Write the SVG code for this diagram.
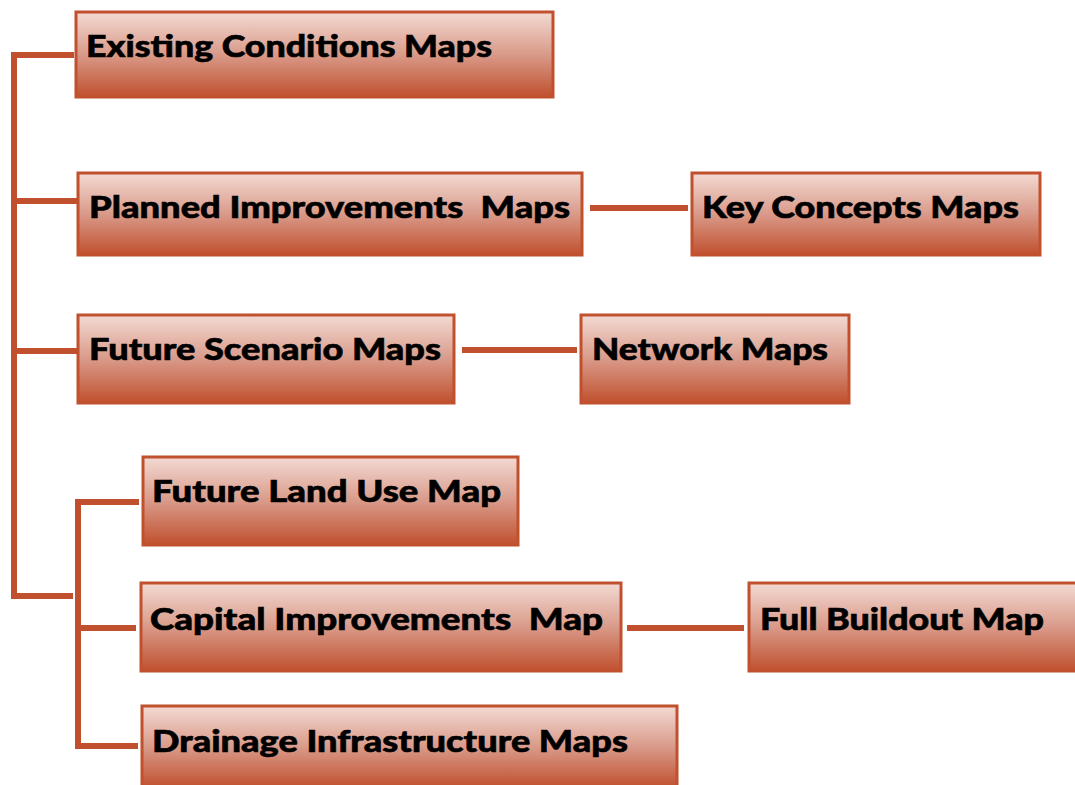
<svg xmlns="http://www.w3.org/2000/svg" width="1075" height="785" viewBox="0 0 1075 785">
<defs>
<linearGradient id="g" x1="0" y1="0" x2="0" y2="1">
<stop offset="0" stop-color="#f3dad3"/>
<stop offset="0.5" stop-color="#d99a89"/>
<stop offset="1" stop-color="#c0502e"/>
</linearGradient>
</defs>
<style>
.box{fill:url(#g);stroke:#c0502e;stroke-width:3}
.t{font-family:Lato,"Liberation Sans",sans-serif;font-weight:900;font-size:30px;fill:#000;stroke:#000;stroke-width:0.6}
.c{stroke:#c0502e;stroke-width:6;fill:none}
</style>
<rect width="1075" height="785" fill="#fff"/>
<g id="connectors">
<path class="c" d="M74 55H14V596H73"/>
<path class="c" d="M14 201H77M14 351H77"/>
<path class="c" d="M139 502H78V746H138M78 628H136"/>
<path class="c" d="M590 208H688M462 350H577M627 628H744"/>
</g>
<g id="existing"><rect class="box" x="76" y="12" width="477" height="85"/><text class="t" x="86" y="57" textLength="406" lengthAdjust="spacingAndGlyphs">Existing Conditions Maps</text></g>
<g id="planned"><rect class="box" x="78" y="173" width="504" height="82"/><text class="t" x="89" y="218" textLength="481" lengthAdjust="spacingAndGlyphs" xml:space="preserve">Planned Improvements  Maps</text></g>
<g id="key"><rect class="box" x="692" y="173" width="348" height="82"/><text class="t" x="702" y="218" textLength="317" lengthAdjust="spacingAndGlyphs">Key Concepts Maps</text></g>
<g id="scenario"><rect class="box" x="78" y="315" width="376" height="88"/><text class="t" x="89" y="360" textLength="352" lengthAdjust="spacingAndGlyphs">Future Scenario Maps</text></g>
<g id="network"><rect class="box" x="581" y="315" width="268" height="88"/><text class="t" x="592" y="360" textLength="236" lengthAdjust="spacingAndGlyphs">Network Maps</text></g>
<g id="landuse"><rect class="box" x="143" y="457" width="375" height="88"/><text class="t" x="152" y="502" textLength="349" lengthAdjust="spacingAndGlyphs">Future Land Use Map</text></g>
<g id="capital"><rect class="box" x="141" y="583" width="480" height="88"/><text class="t" x="150" y="630" textLength="453" lengthAdjust="spacingAndGlyphs" xml:space="preserve">Capital Improvements  Map</text></g>
<g id="buildout"><rect class="box" x="749" y="583" width="330" height="88"/><text class="t" x="760" y="630" textLength="284" lengthAdjust="spacingAndGlyphs">Full Buildout Map</text></g>
<g id="drainage"><rect class="box" x="142" y="706" width="535" height="82"/><text class="t" x="152" y="752" textLength="476" lengthAdjust="spacingAndGlyphs">Drainage Infrastructure Maps</text></g>
</svg>
